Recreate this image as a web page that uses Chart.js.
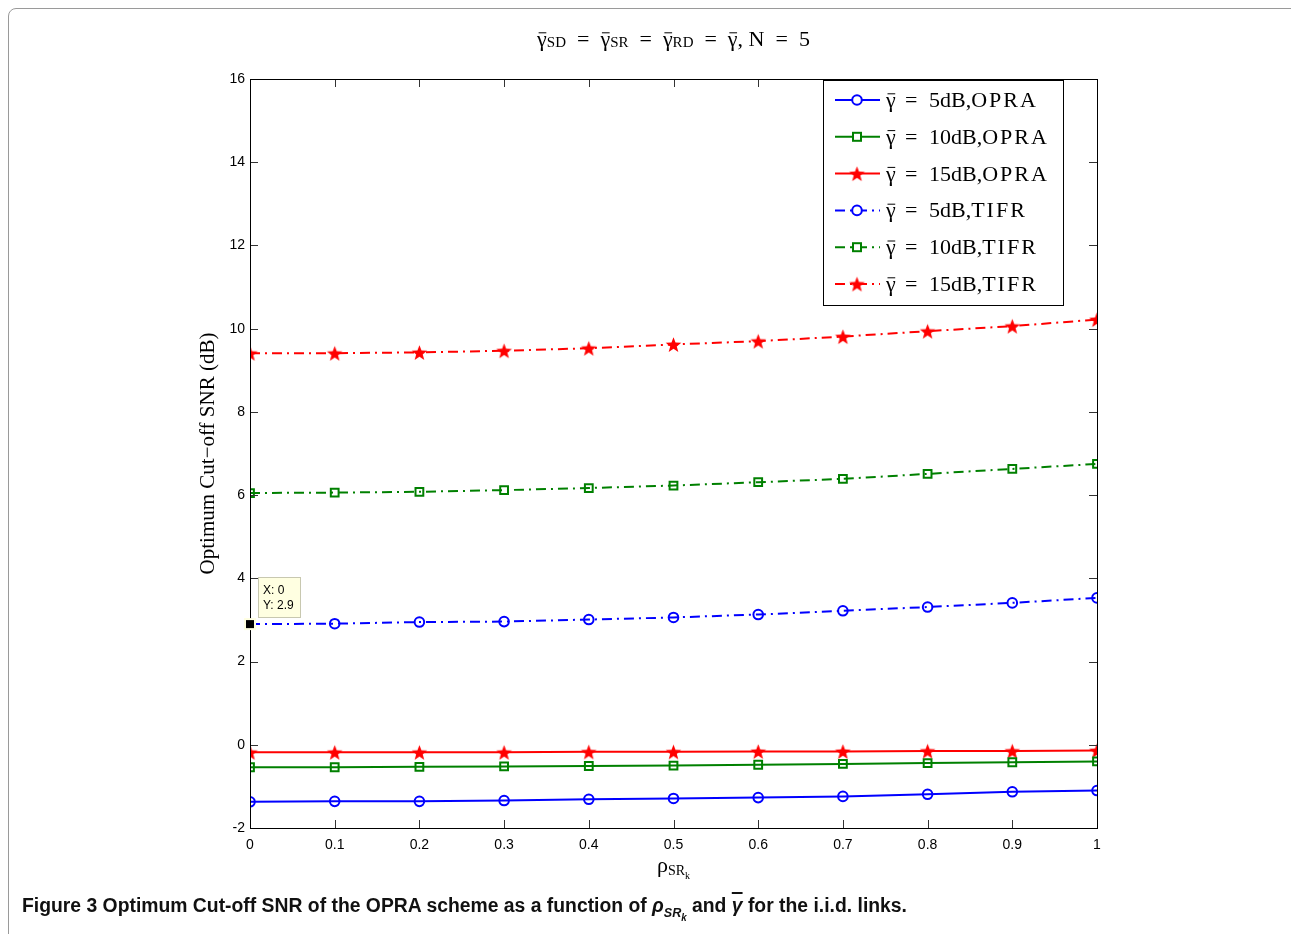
<!DOCTYPE html>
<html>
<head>
<meta charset="utf-8">
<script src="https://cdn.jsdelivr.net/npm/chart.js@4.4.1/dist/chart.umd.min.js"></script>
<style>
  body { margin: 0; background: #fff; overflow: hidden; }
  #frame { position: absolute; left: 8px; top: 8px; width: 1300px; height: 960px;
           border: 1px solid #9a9a9a; border-radius: 8px; box-sizing: border-box; }
  #wrap { position: absolute; left: 0; top: 0; width: 1291px; height: 934px; }
  #caption { position: absolute; left: 22px; top: 894px; white-space: nowrap;
             font-family: "Liberation Sans Narrow", "Liberation Sans", sans-serif;
             font-weight: bold; font-size: 20px; color: #111; transform-origin: 0 0; }
  #caption sub { font-size: 13px; }
  #caption sub sub { font-size: 10px; }
  .ov { text-decoration: overline; }
</style>
</head>
<body>
<div id="frame"></div>
<div id="wrap"><canvas id="c" width="1291" height="934"></canvas></div>
<div id="caption">Figure 3 Optimum Cut-off SNR of the OPRA scheme as a function of <i>ρ<sub>SR<sub>k</sub></sub></i> and <i class="ov">γ</i> for the i.i.d. links.</div>
<script>
// dados
const rho = [0, 0.1, 0.2, 0.3, 0.4, 0.5, 0.6, 0.7, 0.8, 0.9, 1];
const opra5  = [-1.37, -1.36, -1.36, -1.34, -1.31, -1.29, -1.27, -1.24, -1.19, -1.13, -1.10];
const opra10 = [-0.54, -0.54, -0.53, -0.52, -0.51, -0.50, -0.48, -0.46, -0.44, -0.42, -0.40];
const opra15 = [-0.18, -0.18, -0.18, -0.18, -0.17, -0.17, -0.16, -0.16, -0.15, -0.15, -0.14];
const tifr5  = [2.90, 2.91, 2.95, 2.96, 3.01, 3.06, 3.13, 3.22, 3.31, 3.41, 3.53];
const tifr10 = [6.05, 6.06, 6.08, 6.12, 6.17, 6.23, 6.31, 6.39, 6.51, 6.63, 6.75];
const tifr15 = [9.41, 9.41, 9.43, 9.47, 9.53, 9.62, 9.70, 9.81, 9.94, 10.06, 10.22];
const xTicks = [0, 0.1, 0.2, 0.3, 0.4, 0.5, 0.6, 0.7, 0.8, 0.9, 1];
const yTicks = [-2, 0, 2, 4, 6, 8, 10, 12, 14, 16];
const legendLabels = ['5dB,', '10dB,', '15dB,', '5dB,', '10dB,', '15dB,'];
const legendSchemes = ['OPRA', 'OPRA', 'OPRA', 'TIFR', 'TIFR', 'TIFR'];
const tipX = 0, tipY = 2.9;

const BLUE = '#0000ff', GREEN = '#008000', RED = '#ff0000';
const DASHDOT = [10, 5, 2, 5];

// estrela preenchida (pentagrama)
function makeStar(size) {
    const cv = document.createElement('canvas');
    cv.width = size; cv.height = size;
    const g = cv.getContext('2d');
    const cx = size / 2, cy = size / 2 + 0.9, ro = size / 2 - 0.3, ri = ro * 0.42;
    g.beginPath();
    for (let i = 0; i < 10; i++) {
        const r = i % 2 === 0 ? ro : ri;
        const a = -Math.PI / 2 + i * Math.PI / 5;
        g.lineTo(cx + r * Math.cos(a), cy + r * Math.sin(a));
    }
    g.closePath();
    g.fillStyle = RED;
    g.fill();
    return cv;
}
const star = makeStar(17);

function pts(arr) { return arr.map((v, i) => ({ x: rho[i], y: v })); }

function ds(data, color, style, dash) {
    return {
        data: pts(data), borderColor: color, backgroundColor: 'rgba(0,0,0,0)',
        borderWidth: 2, borderDash: dash ? DASHDOT : [],
        pointStyle: style === 'star' ? star : style,
        pointRadius: style === 'rect' ? 5.5 : 4.8, pointBorderWidth: 2,
        pointBorderColor: color, pointBackgroundColor: 'rgba(0,0,0,0)', tension: 0
    };
}

const datasets = [
    ds(opra5, BLUE, 'circle', false),
    ds(opra10, GREEN, 'rect', false),
    ds(opra15, RED, 'star', false),
    ds(tifr5, BLUE, 'circle', true),
    ds(tifr10, GREEN, 'rect', true),
    ds(tifr15, RED, 'star', true)
];

// texto com partes (subscritos, barra sobre gama)
function drawRich(ctx, parts, x, y, align) {
    let total = 0;
    parts.forEach(p => { ctx.font = p.font; ctx.letterSpacing = p.ls || '0px'; p.w = ctx.measureText(p.t).width; total += p.w; });
    let cx = align === 'center' ? x - total / 2 : x;
    parts.forEach(p => {
        ctx.font = p.font; ctx.letterSpacing = p.ls || '0px';
        ctx.fillText(p.t, cx, y + (p.dy || 0));
        if (p.bar) {
            const by = y - p.size * 0.6;
            ctx.beginPath();
            ctx.moveTo(cx + 1.5, by); ctx.lineTo(cx + p.w - 0.5, by);
            ctx.lineWidth = 1; ctx.stroke();
        }
        cx += p.w;
    });
    ctx.letterSpacing = '0px';
}
const SERIF = '"Liberation Serif", "DejaVu Serif", serif';
function g(size) { return { t: 'γ', font: size + 'px ' + SERIF, bar: true, size: size }; }
function s(t, size, dy, ls) { return { t: t, font: size + 'px ' + SERIF, dy: dy || 0, ls: ls }; }

const matlabPlugin = {
    id: 'matlab',
    afterDraw(chart) {
        const ctx = chart.ctx, a = chart.chartArea;
        const xs = chart.scales.x, ys = chart.scales.y;
        ctx.save();
        ctx.strokeStyle = '#000'; ctx.fillStyle = '#000';
        // ticks para dentro, nos quatro lados
        ctx.lineWidth = 1;
        ctx.strokeStyle = '#333';
        yTicks.forEach(v => {
            const py = Math.round(ys.getPixelForValue(v)) + 0.5;
            ctx.beginPath();
            ctx.moveTo(a.left, py); ctx.lineTo(a.left + 8, py);
            ctx.moveTo(a.right, py); ctx.lineTo(a.right - 8, py);
            ctx.stroke();
        });
        xTicks.forEach(v => {
            const px = Math.round(xs.getPixelForValue(v)) + 0.5;
            ctx.beginPath();
            ctx.moveTo(px, a.bottom); ctx.lineTo(px, a.bottom - 8);
            ctx.moveTo(px, a.top); ctx.lineTo(px, a.top + 8);
            ctx.stroke();
        });
        ctx.strokeStyle = '#000';
        ctx.strokeRect(Math.round(a.left) + 0.5, Math.round(a.top) + 0.5,
            Math.round(a.right - a.left), Math.round(a.bottom - a.top));

        // legenda
        const lx = 823, ly = 80, lw = 240, lh = 225;
        ctx.fillStyle = '#fff';
        ctx.fillRect(lx, ly, lw, lh);
        ctx.lineWidth = 1;
        ctx.strokeRect(lx + 0.5, ly + 0.5, lw, lh);
        datasets.forEach((d, i) => {
            const ry = 100 + i * 36.8;
            ctx.strokeStyle = d.borderColor;
            ctx.lineWidth = d.borderWidth;
            ctx.setLineDash(d.borderDash);
            ctx.beginPath(); ctx.moveTo(835, ry); ctx.lineTo(880, ry); ctx.stroke();
            ctx.setLineDash([]);
            ctx.lineWidth = 2;
            if (d.pointStyle === 'circle') {
                ctx.fillStyle = '#fff';
                ctx.beginPath(); ctx.arc(857, ry, 4.8, 0, Math.PI * 2); ctx.fill(); ctx.stroke();
            } else if (d.pointStyle === 'rect') {
                ctx.fillStyle = '#fff';
                ctx.fillRect(853, ry - 4, 8, 8);
                ctx.strokeRect(853, ry - 4, 8, 8);
            } else {
                ctx.drawImage(star, 857 - 8.5, ry - 8.5);
            }
            ctx.fillStyle = '#000'; ctx.strokeStyle = '#000';
            ctx.textAlign = 'left'; ctx.textBaseline = 'alphabetic';
            drawRich(ctx, [g(22)], 886, ry + 7, 'left');
            drawRich(ctx, [s('=', 22)], 905, ry + 7, 'left');
            drawRich(ctx, [s(legendLabels[i], 22), s(legendSchemes[i], 22, 0, '2px')], 929, ry + 7, 'left');
        });

        // datatip
        const tx = xs.getPixelForValue(tipX), ty = ys.getPixelForValue(tipY);
        ctx.fillStyle = '#ffffe1'; ctx.strokeStyle = '#c8c8b0'; ctx.lineWidth = 1;
        ctx.fillRect(tx + 8, 577, 42, 40); ctx.strokeRect(tx + 8.5, 577.5, 42, 40);
        ctx.fillStyle = '#000';
        ctx.font = '12px "Liberation Sans", sans-serif';
        ctx.fillText('X: 0', tx + 13, 594);
        ctx.fillText('Y: 2.9', tx + 13, 609);
        ctx.fillStyle = '#ffffe1';
        ctx.fillRect(tx - 6, ty - 6, 12, 12);
        ctx.fillStyle = '#000';
        ctx.fillRect(tx - 4, ty - 4, 8, 8);

        // titulo
        ctx.fillStyle = '#000'; ctx.strokeStyle = '#000';
        drawRich(ctx, [g(22), s('SD', 15, 1), s('  =  ', 22), g(22), s('SR', 15, 1), s('  =  ', 22),
            g(22), s('RD', 15, 1), s('  =  ', 22), g(22), s(', N  =  5', 22)],
            (a.left + a.right) / 2, 46, 'center');

        // rotulo do eixo x
        drawRich(ctx, [s('ρ', 22), s('SR', 14, 3), s('k', 10, 7)], (a.left + a.right) / 2, 872, 'center');

        // rotulo do eixo y
        ctx.save();
        ctx.translate(214, (a.top + a.bottom) / 2);
        ctx.rotate(-Math.PI / 2);
        ctx.textAlign = 'center';
        ctx.font = '21px ' + SERIF;
        ctx.fillText('Optimum Cut\u2212off SNR (dB)', 0, 0);
        ctx.restore();
        ctx.restore();
    }
};

new Chart(document.getElementById('c'), {
    type: 'line',
    data: { datasets: datasets },
    options: {
        responsive: false,
        animation: false,
        layout: { padding: { left: 190, right: 194, top: 79, bottom: 0 } },
        plugins: { legend: { display: false }, tooltip: { enabled: false } },
        scales: {
            x: {
                type: 'linear', min: 0, max: 1,
                afterFit: sc => { sc.height = 106; },
                afterBuildTicks: sc => { sc.ticks = xTicks.map(v => ({ value: v })); },
                grid: { display: false, drawTicks: false },
                border: { display: false },
                ticks: { padding: 9, color: '#000', font: { family: 'Liberation Sans', size: 14 },
                         maxRotation: 0, callback: v => String(v) }
            },
            y: {
                min: -2, max: 16,
                afterFit: sc => { sc.width = 60; },
                afterBuildTicks: sc => { sc.ticks = yTicks.map(v => ({ value: v })); },
                grid: { display: false, drawTicks: false },
                border: { display: false },
                ticks: { padding: 5, color: '#000', font: { family: 'Liberation Sans', size: 14 },
                         callback: v => String(v) }
            }
        }
    },
    plugins: [matlabPlugin]
});

// ajusta a largura da legenda da figura
const cap = document.getElementById('caption');
const w = cap.getBoundingClientRect().width;
cap.style.transform = 'scaleX(' + (885 / w) + ')';
</script>
</body>
</html>
